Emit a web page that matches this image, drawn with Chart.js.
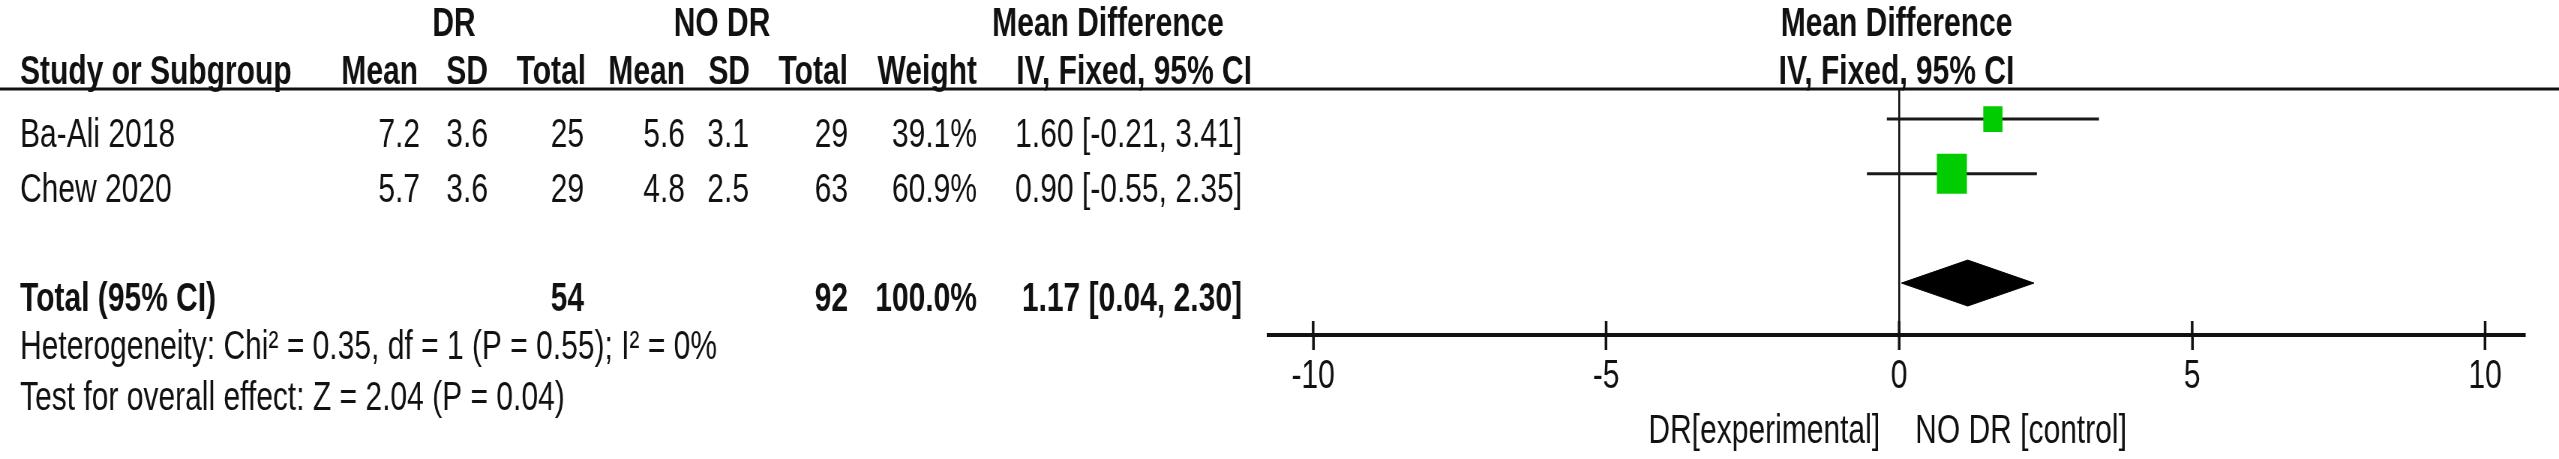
<!DOCTYPE html>
<html>
<head>
<meta charset="utf-8">
<title>Forest plot - DR vs NO DR</title>
<script src="https://cdn.jsdelivr.net/npm/chart.js@4.4.1/dist/chart.umd.min.js"></script>
<style>
  html, body { margin: 0; padding: 0; background: #fff; }
</style>
</head>
<body>
<!-- drawn 4/3 wider and squeezed back, the source figure is condensed -->
<canvas id="forest" width="3412" height="459" style="width:2559px;height:459px;display:block"></canvas>
<script>
// study data
const studies = ['Ba-Ali 2018', 'Chew 2020'];
const drMean = [7.2, 5.7];
const drSD = [3.6, 3.6];
const drTotal = [25, 29];
const noDrMean = [5.6, 4.8];
const noDrSD = [3.1, 2.5];
const noDrTotal = [29, 63];
const weights = [39.1, 60.9];
const meanDiff = [1.60, 0.90];
const ciLow = [-0.21, -0.55];
const ciHigh = [3.41, 2.35];

// pooled result
const totalLabel = 'Total (95% CI)';
const totalDr = 54;
const totalNoDr = 92;
const totalWeight = 100.0;
const totalMD = 1.17;
const totalLow = 0.04;
const totalHigh = 2.30;

const xTicks = [-10, -5, 0, 5, 10];
const heterogeneity = 'Heterogeneity: Chi² = 0.35, df = 1 (P = 0.55); I² = 0%';
const overallEffect = 'Test for overall effect: Z = 2.04 (P = 0.04)';
const leftLabel = 'DR[experimental]';
const rightLabel = 'NO DR [control]';

// layout (screen pixels)
const SX = 0.75;
const FONT = '"Liberation Sans", Arial, sans-serif';
const colRight = [420, 488, 584, 685, 749, 848, 977, 1242];
const headRight = [418, 488, 586, 685, 750, 848, 977, 1252];
const headNames = ['Mean', 'SD', 'Total', 'Mean', 'SD', 'Total', 'Weight', 'IV, Fixed, 95% CI'];
const totalRow = studies.length + 2;
const DIAMOND_HALF = 0.42; // in row units

const ci = (m, lo, hi) => m.toFixed(2) + ' [' + lo.toFixed(2) + ', ' + hi.toFixed(2) + ']';

const forestTable = {
  id: 'forestTable',
  afterDraw(chart) {
    const { ctx, chartArea, scales: { x, y } } = chart;
    const put = (str, cx, cy, align, bold) => {
      ctx.font = (bold ? 'bold ' : '') + '40px ' + FONT;
      ctx.textAlign = align;
      ctx.textBaseline = 'alphabetic';
      ctx.fillText(str, cx, cy);
    };
    const col = v => v / SX;

    ctx.save();
    ctx.strokeStyle = '#111';
    ctx.fillStyle = '#111';

    // rule below the header
    ctx.lineWidth = 3;
    ctx.beginPath();
    ctx.moveTo(0, chartArea.top);
    ctx.lineTo(chart.width, chartArea.top);
    ctx.stroke();

    // upper half of the axis tick marks
    ctx.lineWidth = 3.5;
    x.ticks.forEach(t => {
      const px = x.getPixelForValue(t.value);
      ctx.beginPath();
      ctx.moveTo(px, chartArea.bottom - 14);
      ctx.lineTo(px, chartArea.bottom);
      ctx.stroke();
    });

    // headers
    const plotMid = (chartArea.left + chartArea.right) / 2;
    put('DR', col(454), 36, 'center', true);
    put('NO DR', col(722), 36, 'center', true);
    put('Mean Difference', col(1108), 36, 'center', true);
    put('Mean Difference', plotMid, 36, 'center', true);
    put('Study or Subgroup', col(20), 84, 'left', true);
    headNames.forEach((h, i) => put(h, col(headRight[i]), 84, 'right', true));
    put('IV, Fixed, 95% CI', plotMid, 84, 'center', true);

    // study rows
    studies.forEach((s, i) => {
      const by = y.getPixelForValue(i + 1) + 28;
      const cells = [drMean[i].toFixed(1), drSD[i].toFixed(1), String(drTotal[i]),
        noDrMean[i].toFixed(1), noDrSD[i].toFixed(1), String(noDrTotal[i]),
        weights[i].toFixed(1) + '%', ci(meanDiff[i], ciLow[i], ciHigh[i])];
      put(s, col(20), by, 'left', false);
      cells.forEach((c, j) => put(c, col(colRight[j]), by, 'right', false));
    });

    // total row
    const ty = y.getPixelForValue(totalRow) + 28;
    put(totalLabel, col(20), ty, 'left', true);
    put(String(totalDr), col(colRight[2]), ty, 'right', true);
    put(String(totalNoDr), col(colRight[5]), ty, 'right', true);
    put(totalWeight.toFixed(1) + '%', col(colRight[6]), ty, 'right', true);
    put(ci(totalMD, totalLow, totalHigh), col(colRight[7]), ty, 'right', true);

    put(heterogeneity, col(20), 359, 'left', false);
    put(overallEffect, col(20), 410, 'left', false);

    // favours labels
    const zero = x.getPixelForValue(0);
    put(leftLabel, zero - col(19), 443, 'right', false);
    put(rightLabel, zero + col(16), 443, 'left', false);
    ctx.restore();
  }
};

const ciSets = studies.map((s, i) => ({
  type: 'line',
  label: s,
  data: [{ x: ciLow[i], y: i + 1 }, { x: ciHigh[i], y: i + 1 }],
  borderColor: '#1a1a1a',
  borderWidth: 3,
  pointRadius: 0,
  fill: false,
  order: 2
}));

new Chart(document.getElementById('forest'), {
  type: 'scatter',
  data: {
    datasets: [
      {
        label: 'Mean difference',
        data: meanDiff.map((v, i) => ({ x: v, y: i + 1 })),
        pointStyle: 'rect',
        pointRadius: c => weights[c.dataIndex] * 0.465,
        backgroundColor: '#00cc00',
        borderWidth: 0,
        order: 0
      },
      {
        type: 'line',
        label: totalLabel,
        data: [
          { x: totalLow, y: totalRow },
          { x: totalMD, y: totalRow - DIAMOND_HALF },
          { x: totalHigh, y: totalRow },
          { x: totalMD, y: totalRow + DIAMOND_HALF },
          { x: totalLow, y: totalRow }
        ],
        borderColor: '#000',
        backgroundColor: '#000',
        borderWidth: 1,
        pointRadius: 0,
        tension: 0,
        fill: 'shape',
        order: 1
      },
      ...ciSets
    ]
  },
  options: {
    responsive: false,
    devicePixelRatio: 1,
    animation: false,
    events: [],
    layout: { padding: { left: 1268 / SX, right: (2559 - 2525) / SX, top: 89, bottom: 55 } },
    plugins: { legend: { display: false }, tooltip: { enabled: false } },
    scales: {
      x: {
        type: 'linear',
        min: -10.77,
        max: 10.68,
        afterBuildTicks: s => { s.ticks = xTicks.map(v => ({ value: v })); },
        border: { display: true, color: '#111', width: 4 },
        grid: {
          color: c => (c.tick && c.tick.value === 0 ? '#111' : 'rgba(0,0,0,0)'),
          lineWidth: 2.6,
          tickLength: 15,
          tickColor: '#111',
          tickWidth: 3.5
        },
        ticks: { color: '#111', font: { size: 40, family: FONT }, padding: 3, maxRotation: 0, autoSkip: false }
      },
      y: { type: 'linear', min: 0.45, max: 4.95, reverse: true, display: false }
    }
  },
  plugins: [forestTable]
});
</script>
</body>
</html>
